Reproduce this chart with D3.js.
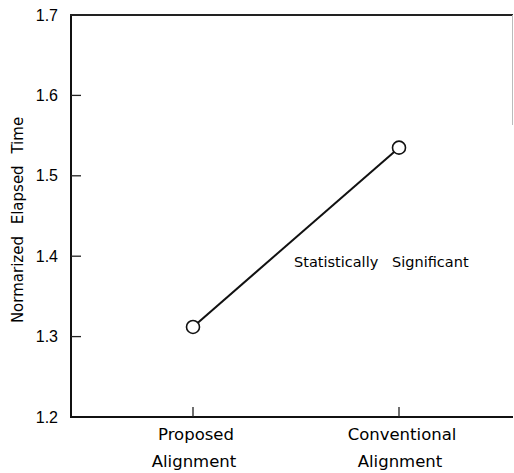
<!DOCTYPE html>
<html>
<head>
<meta charset="utf-8">
<script src="https://cdn.jsdelivr.net/npm/d3@7"></script>
<style>
  body { margin: 0; background: #fff; }
  svg { display: block; }
  text { fill: #000; }
</style>
</head>
<body>
<svg id="chart"></svg>
<script>
// data
const categories = [["Proposed", "Alignment"], ["Conventional", "Alignment"]];
const values = [1.312, 1.535];
const yTicks = [1.2, 1.3, 1.4, 1.5, 1.6, 1.7];
const note = "Statistically   Significant";

const width = 514;
const height = 473;

const svg = d3.select("#chart")
  .attr("width", width)
  .attr("height", height);

// plot frame
const plotLeft = 71, plotRight = 513, plotTop = 15, plotBottom = 417;

const x = d3.scalePoint()
  .domain(categories.map(d => d[0]))
  .range([193, 399]);

const y = d3.scaleLinear()
  .domain([1.2, 1.7])
  .range([plotBottom, plotTop]);

// frame lines: left, bottom, top, faint right
svg.append("line")
  .attr("x1", plotLeft).attr("x2", plotLeft).attr("y1", plotTop).attr("y2", plotBottom)
  .attr("stroke", "#111").attr("stroke-width", 2);
svg.append("line")
  .attr("x1", plotLeft - 1).attr("x2", plotRight).attr("y1", plotBottom).attr("y2", plotBottom)
  .attr("stroke", "#111").attr("stroke-width", 2);
svg.append("line")
  .attr("x1", plotLeft - 1).attr("x2", plotRight).attr("y1", plotTop).attr("y2", plotTop)
  .attr("stroke", "#222").attr("stroke-width", 1.8);
svg.append("line")
  .attr("x1", plotRight - 0.5).attr("x2", plotRight - 0.5).attr("y1", plotTop).attr("y2", plotTop + 110)
  .attr("stroke", "#bbb").attr("stroke-width", 1);

// y ticks (inward) and labels
svg.selectAll(".ytick")
  .data(yTicks.slice(1, -1))
  .enter()
  .append("line")
  .attr("class", "ytick")
  .attr("x1", plotLeft).attr("x2", plotLeft + 10)
  .attr("y1", d => y(d)).attr("y2", d => y(d))
  .attr("stroke", "#222").attr("stroke-width", 1.3);

svg.selectAll(".ylab")
  .data(yTicks)
  .enter()
  .append("text")
  .attr("class", "ylab")
  .attr("x", 58)
  .attr("y", d => y(d) + 5.5)
  .attr("text-anchor", "end")
  .style("font-family", "'Liberation Sans', Arial, sans-serif")
  .style("font-size", "16px")
  .text(d => d.toFixed(1));

// x ticks (upward) and two-line labels
svg.selectAll(".xtick")
  .data(categories)
  .enter()
  .append("line")
  .attr("class", "xtick")
  .attr("x1", d => x(d[0])).attr("x2", d => x(d[0]))
  .attr("y1", plotBottom).attr("y2", plotBottom - 10)
  .attr("stroke", "#222").attr("stroke-width", 1.3);

const xl = svg.selectAll(".xlab")
  .data(categories)
  .enter()
  .append("text")
  .attr("class", "xlab")
  .attr("text-anchor", "middle")
  .style("font-family", "'DejaVu Sans', sans-serif")
  .style("font-size", "16.5px");
xl.append("tspan")
  .attr("x", d => x(d[0]) + 3)
  .attr("y", 440)
  .text(d => d[0]);
xl.append("tspan")
  .attr("x", d => x(d[0]) + 1)
  .attr("y", 467)
  .text(d => d[1]);

// y axis title
svg.append("text")
  .attr("transform", "translate(23, 220) rotate(-90)")
  .attr("text-anchor", "middle")
  .style("font-family", "'DejaVu Sans', sans-serif")
  .style("font-size", "15px")
  .style("word-spacing", "7px")
  .text("Normarized Elapsed Time");

// data line and markers
const pts = categories.map((c, i) => [x(c[0]), y(values[i])]);

svg.append("path")
  .attr("d", d3.line()(pts))
  .attr("fill", "none")
  .attr("stroke", "#111")
  .attr("stroke-width", 2);

svg.selectAll(".pt")
  .data(pts)
  .enter()
  .append("circle")
  .attr("class", "pt")
  .attr("cx", d => d[0])
  .attr("cy", d => d[1])
  .attr("r", 6.5)
  .attr("fill", "#fff")
  .attr("stroke", "#111")
  .attr("stroke-width", 1.6);

// annotation
svg.append("text")
  .attr("x", 294)
  .attr("y", 267)
  .style("white-space", "pre")
  .style("font-family", "'DejaVu Sans', sans-serif")
  .style("font-size", "14.5px")
  .text(note);
</script>
</body>
</html>
